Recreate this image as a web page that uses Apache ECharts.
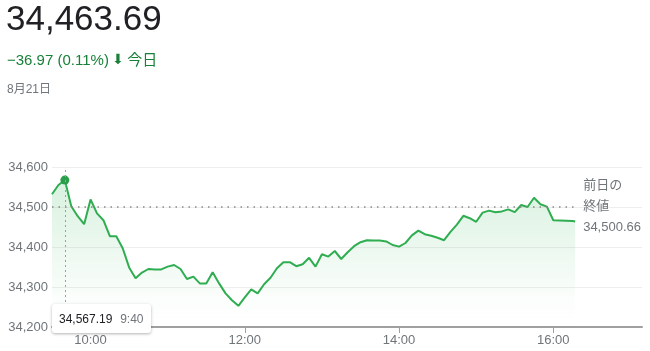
<!DOCTYPE html>
<html>
<head>
<meta charset="utf-8">
<script src="https://cdn.jsdelivr.net/npm/echarts@6/dist/echarts.min.js"></script>
<style>
  html, body { margin: 0; padding: 0; background: #fff; }
  #chart { width: 650px; height: 351px; }
</style>
</head>
<body>
<div id="chart"></div>
<script>
var times = ['9:30','9:35','9:40','9:45','9:50','9:55','10:00','10:05','10:10','10:15',
  '10:20','10:25','10:30','10:35','10:40','10:45','10:50','10:55','11:00','11:05',
  '11:10','11:15','11:20','11:25','11:30','11:35','11:40','11:45','11:50','11:55',
  '12:00','12:05','12:10','12:15','12:20','12:25','12:30','12:35','12:40','12:45',
  '12:50','12:55','13:00','13:05','13:10','13:15','13:20','13:25','13:30','13:35',
  '13:40','13:45','13:50','13:55','14:00','14:05','14:10','14:15','14:20','14:25',
  '14:30','14:35','14:40','14:45','14:50','14:55','15:00','15:05','15:10','15:15',
  '15:20','15:25','15:30','15:35','15:40','15:45','15:50','15:55','16:00','16:15','16:17'];
var prices = [34532, 34555, 34567.19, 34502, 34477, 34457, 34519, 34484, 34467, 34427,
  34427, 34397, 34349, 34322, 34336, 34345, 34344, 34344, 34351, 34355,
  34345, 34320, 34326, 34309, 34309, 34337, 34309, 34284, 34267, 34253,
  34274, 34294, 34284, 34307, 34323, 34347, 34362, 34362, 34352, 34357,
  34373, 34351, 34382, 34376, 34390, 34370, 34387, 34402, 34412, 34417,
  34416, 34416, 34414, 34405, 34401, 34410, 34429, 34441, 34432, 34428,
  34423, 34417, 34438, 34456, 34478, 34472, 34463, 34486, 34491, 34487,
  34489, 34494, 34487, 34505, 34500, 34523, 34507, 34501, 34467, 34465, 34463.69];
var xTicks = ['10:00', '12:00', '14:00', '16:00'];
var prevClose = 34500.66;
var lastPrice = '34,463.69';
var changeText = '−36.97 (0.11%)';
var dateText = '8月21日';
var selectedIndex = 2;

function toMin(s) {
  var p = s.split(':');
  return parseInt(p[0]) * 60 + parseInt(p[1]);
}
function fmtMin(v) {
  var m = v % 60;
  return Math.floor(v / 60) + ':' + (m < 10 ? '0' + m : m);
}
function fmtNum(v, d) {
  return v.toLocaleString('en-US', {minimumFractionDigits: d, maximumFractionDigits: d});
}

var font = '"Liberation Sans", Arial, "Noto Sans CJK JP", sans-serif';
var green = '#2b9e4a';
var textGreen = '#188038';
var gray = '#70757a';

var data = times.map(function (t, i) { return [toMin(t), prices[i]]; });
var tickVals = xTicks.map(toMin);
var lastMin = toMin(times[times.length - 1]);

var chart = echarts.init(document.getElementById('chart'));
chart.setOption({
  animation: false,
  textStyle: { fontFamily: font },
  grid: { left: 52, right: 8, top: 167, bottom: 24 },
  graphic: [
    { type: 'text', left: 6, top: 3,
      style: { text: lastPrice, font: '35px ' + font, fill: '#202124' } },
    { type: 'text', left: 7, top: 53,
      style: {
        text: '{a|' + changeText + '} {b|⬇} {a|今日}',
        rich: {
          a: { fontSize: 15, fontFamily: font, fill: textGreen },
          b: { fontSize: 14, fontFamily: 'DejaVu Sans', fill: textGreen }
        }
      } },
    { type: 'text', left: 7, top: 84,
      style: { text: dateText, font: '12px ' + font, fill: gray } }
  ],
  tooltip: {
    trigger: 'axis',
    alwaysShowContent: true,
    transitionDuration: 0,
    position: [52, 304],
    backgroundColor: '#fff',
    borderWidth: 0,
    padding: [7, 7],
    extraCssText: 'box-shadow: 0 1px 3px rgba(0,0,0,0.3); border-radius: 3px; line-height: 15px;',
    axisPointer: {
      type: 'line',
      animation: false,
      lineStyle: { color: '#9aa0a6', type: [2, 3], width: 1 },
      label: { show: false }
    },
    formatter: function (params) {
      var p = params[0];
      var f = font.replace(/"/g, "'");
      return '<span style="font:12px ' + f + ';color:#202124">' +
        fmtNum(p.value[1], 2) + '</span>&nbsp;&nbsp;<span style="font:12px ' +
        f + ';color:' + gray + '">' + fmtMin(p.value[0]) + '</span>';
    }
  },
  xAxis: {
    type: 'value',
    min: 570,
    max: 1029,
    axisLine: { lineStyle: { color: '#a0a0a0', width: 2 } },
    axisTick: { show: true, customValues: tickVals, length: 6, lineStyle: { color: '#a0a0a0' } },
    axisLabel: { customValues: tickVals, color: gray, fontSize: 13, margin: 7, formatter: fmtMin },
    splitLine: { show: false }
  },
  yAxis: {
    type: 'value',
    min: 34200,
    max: 34600,
    interval: 100,
    axisLine: { show: false },
    axisTick: { show: false },
    axisLabel: { color: gray, fontSize: 13, margin: 4, formatter: function (v) { return fmtNum(v, 0); } },
    splitLine: { lineStyle: { color: '#eeeeee' } }
  },
  series: [{
    type: 'line',
    data: data,
    showSymbol: false,
    symbol: 'circle',
    symbolSize: 9,
    lineStyle: { color: green, width: 2 },
    itemStyle: { color: green },
    emphasis: { scale: false, itemStyle: { color: green, borderWidth: 0 }, lineStyle: { width: 2 } },
    areaStyle: {
      color: new echarts.graphic.LinearGradient(0, 0, 0, 1, [
        { offset: 0, color: 'rgba(52,168,83,0.28)' },
        { offset: 0.8, color: 'rgba(52,168,83,0.03)' },
        { offset: 1, color: 'rgba(52,168,83,0)' }
      ])
    },
    markLine: {
      silent: true,
      symbol: 'none',
      lineStyle: { color: '#888', type: [1.5, 5], width: 1.5 },
      label: {
        position: 'end',
        distance: 8,
        color: gray,
        fontSize: 13,
        lineHeight: 21,
        formatter: '前日の\n終値\n' + fmtNum(prevClose, 2)
      },
      data: [[{ coord: [toMin(times[0]), prevClose] }, { coord: [lastMin, prevClose] }]]
    }
  }]
});
chart.dispatchAction({ type: 'showTip', seriesIndex: 0, dataIndex: selectedIndex });
</script>
</body>
</html>
